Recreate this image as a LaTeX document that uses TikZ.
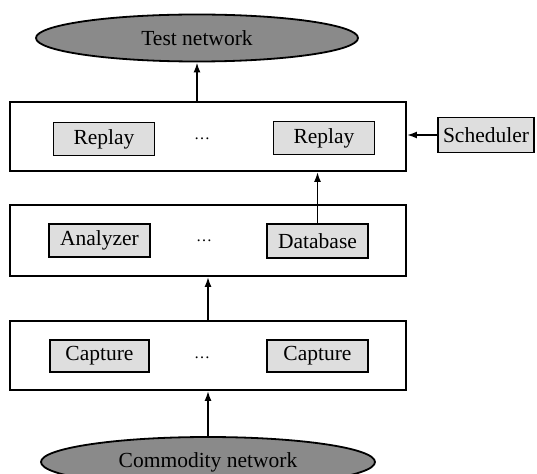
\documentclass[tikz,border=0pt]{standalone}
\usepackage{fontspec}
\setmainfont{Liberation Serif}
\usetikzlibrary{shapes.geometric,arrows.meta}
\definecolor{netgray}{HTML}{8A8A8A}
\definecolor{boxgray}{HTML}{DEDEDE}
\begin{document}
\begin{tikzpicture}[x=1pt,y=-1pt,
  every node/.style={font=\fontsize{21.5}{25}\selectfont, inner sep=0pt},
  net/.style={ellipse, draw, line width=1.8pt, fill=netgray},
  layer/.style={draw, line width=1.8pt, fill=white, minimum width=396pt},
  unit/.style={draw, line width=1.8pt, fill=boxgray, minimum width=101pt, minimum height=33pt},
  dotsl/.style={font=\fontsize{16}{18}\selectfont},
  arr/.style={line width=1.8pt, -{Latex[length=10pt,width=7pt]}}]
\useasboundingbox (0,0) rectangle (537,473);
\clip (0,0) rectangle (537,473);
\fill[white] (0,0) rectangle (537,473);
% networks
\node[net, minimum width=322pt, minimum height=47pt] (test) at (197,38) {Test network};
\node[net, minimum width=334pt, minimum height=50pt] (comm) at (208,462) {Commodity network};
% layers
\node[layer, minimum height=69pt] (top) at (208,136.5) {};
\node[layer, minimum height=71pt] (mid) at (208,240.5) {};
\node[layer, minimum height=69pt] (bot) at (208,355.5) {};
% units
\node[unit] (rep1) at (104,139) {Replay};
\node[dotsl] (dots1) at (202,139) {…};
\node[unit] (rep2) at (324,138) {Replay};
\node[unit, minimum width=96pt, minimum height=35pt] (sched) at (486,135) {Scheduler};
\node[unit] (ana) at (99.5,240.5) {Analyzer};
\node[dotsl] (dots2) at (204,241) {…};
\node[unit, minimum height=34pt] (db) at (317.5,241) {Database};
\node[unit, minimum width=99pt, minimum height=32pt] (cap1) at (99.5,356) {Capture};
\node[dotsl] (dots3) at (202,358) {…};
\node[unit, minimum height=32pt] (cap2) at (317.5,356) {Capture};
% connectors
\draw[arr] (test.south |- top.north) -- (test.south);
\draw[arr] (sched.west) -- (sched.west -| top.east);
\draw[arr] (db.north) -- (db.north |- top.south);
\draw[arr] (bot.north) -- (mid.south);
\draw[arr] (comm.north) -- (comm.north |- bot.south);
\end{tikzpicture}
\end{document}
